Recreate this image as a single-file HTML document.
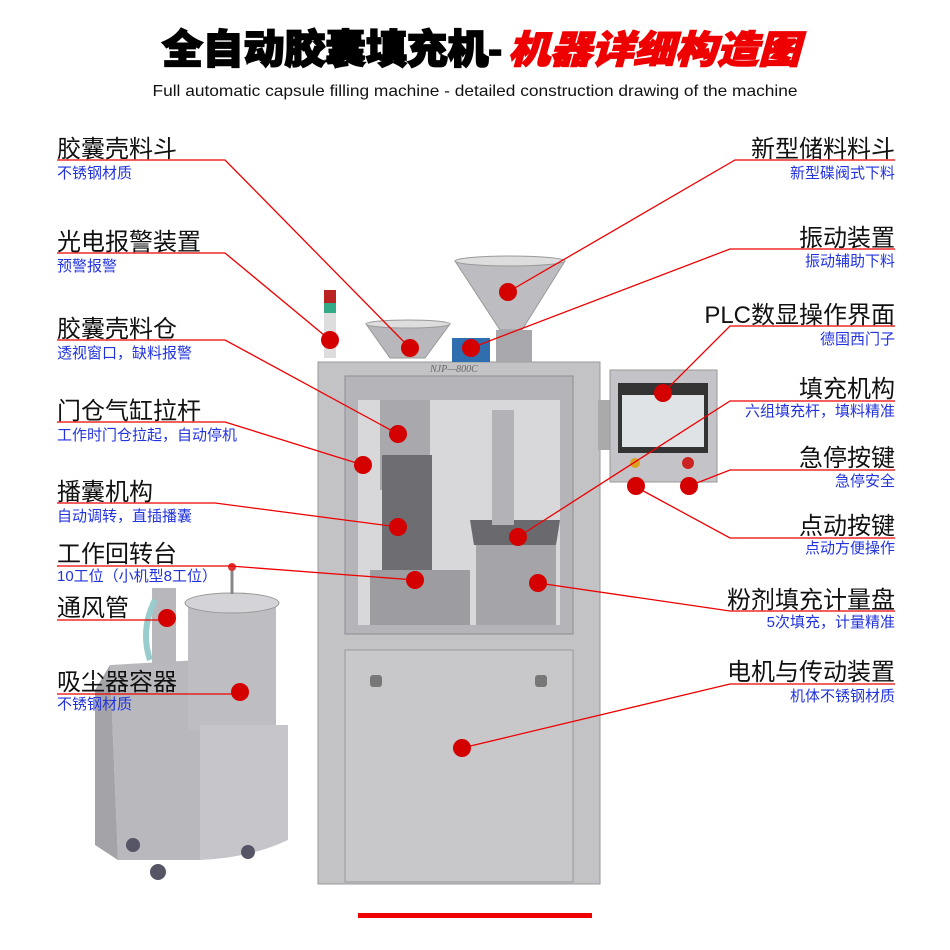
<!DOCTYPE html>
<html><head><meta charset="utf-8"><style>
html,body{margin:0;padding:0;background:#fff}
svg{display:block}
.t{font-family:"Liberation Sans","Noto Sans CJK SC",sans-serif;font-size:24px;fill:#111}
.s{font-family:"Liberation Sans","Noto Sans CJK SC",sans-serif;font-size:15px;fill:#2233dd}
</style></head><body>
<svg width="950" height="950" viewBox="0 0 950 950" xmlns="http://www.w3.org/2000/svg">
<rect width="950" height="950" fill="#fff"/>
<text x="162" y="63" font-family="Liberation Sans,Noto Sans CJK SC,sans-serif" font-size="40" font-weight="900" fill="#000" stroke="#000" stroke-width="1.8" textLength="340" lengthAdjust="spacingAndGlyphs">全自动胶囊填充机-</text>
<text x="508" y="63" font-family="Liberation Sans,Noto Sans CJK SC,sans-serif" font-size="38" font-weight="900" font-style="italic" fill="#e00" stroke="#e00" stroke-width="1.4" textLength="292" lengthAdjust="spacingAndGlyphs">机器详细构造图</text>
<text x="475" y="96" text-anchor="middle" font-family="Liberation Sans,sans-serif" font-size="16" fill="#111" textLength="645" lengthAdjust="spacingAndGlyphs">Full automatic capsule filling machine - detailed construction drawing of the machine</text>

<!-- vacuum cleaner -->
<g>
<rect x="152" y="588" width="24" height="240" fill="#b8b8bc"/>
<path d="M110 665 L200 660 L200 860 L118 860 Z" fill="#b9b9bd"/>
<path d="M95 690 L110 665 L118 860 L95 845 Z" fill="#a4a4a8"/>
<rect x="188" y="600" width="88" height="130" fill="#bebec2"/>
<ellipse cx="232" cy="603" rx="47" ry="10" fill="#d4d4d8" stroke="#999"/>
<path d="M200 725 L288 725 L288 840 Q250 858 200 860 Z" fill="#c6c6ca"/>
<line x1="232" y1="570" x2="232" y2="594" stroke="#888" stroke-width="3"/>
<circle cx="232" cy="567" r="4" fill="#d33"/>
<circle cx="133" cy="845" r="7" fill="#556"/><circle cx="158" cy="872" r="8" fill="#556"/><circle cx="248" cy="852" r="7" fill="#556"/>
<path d="M155 600 Q140 630 150 660" stroke="#9cc" stroke-width="6" fill="none"/>
</g>

<!-- main machine -->
<rect x="318" y="362" width="282" height="522" fill="#c3c3c6" stroke="#999"/>
<rect x="345" y="376" width="228" height="258" fill="#b5b5b9" stroke="#8e8e92"/>
<rect x="358" y="400" width="202" height="225" fill="#d8d8da"/>
<rect x="380" y="400" width="50" height="90" fill="#a9a9ad"/>
<rect x="382" y="455" width="50" height="140" fill="#6e6e72"/>
<rect x="476" y="520" width="80" height="105" fill="#a5a5a9"/>
<path d="M470 520 L560 520 L556 545 L474 545 Z" fill="#6a6a6e"/>
<rect x="492" y="410" width="22" height="115" fill="#b3b3b7"/>
<rect x="370" y="570" width="100" height="55" fill="#9d9da1"/>
<rect x="345" y="650" width="228" height="232" fill="#c8c8cb" stroke="#9a9a9e"/>
<rect x="370" y="675" width="12" height="12" rx="3" fill="#777"/><rect x="535" y="675" width="12" height="12" rx="3" fill="#777"/>
<text x="430" y="372" font-family="Liberation Serif,serif" font-style="italic" font-size="10" fill="#666">NJP—800C</text>
<!-- hoppers -->
<path d="M366 324 L450 324 L425 358 L390 358 Z" fill="#b8b8bc" stroke="#999"/>
<ellipse cx="408" cy="324" rx="42" ry="4" fill="#ddd" stroke="#999"/>
<path d="M455 261 L565 261 L522 330 L500 330 Z" fill="#bdbdc1" stroke="#999"/>
<ellipse cx="510" cy="261" rx="55" ry="5" fill="#ddd" stroke="#999"/>
<rect x="496" y="330" width="36" height="32" fill="#a8a8ac"/>
<rect x="452" y="338" width="38" height="24" fill="#2f6fb0"/>
<!-- light tower -->
<rect x="324" y="290" width="12" height="13" fill="#b22"/><rect x="324" y="303" width="12" height="10" fill="#3a8"/>
<rect x="324" y="313" width="12" height="45" fill="#ddd"/>
<!-- control panel -->
<rect x="598" y="400" width="14" height="50" fill="#aaa"/>
<rect x="610" y="370" width="107" height="112" fill="#c4c4c8" stroke="#999"/>
<rect x="618" y="383" width="90" height="70" fill="#333"/>
<rect x="622" y="395" width="82" height="52" fill="#dfe3e6"/>
<circle cx="635" cy="463" r="5" fill="#d9a320"/><circle cx="688" cy="463" r="6" fill="#c22"/>

<!-- bottom red line -->
<rect x="358" y="913" width="234" height="5" fill="#e00"/>

<!-- leaders -->
<g stroke="#e00" stroke-width="1.3" fill="none">
<polyline points="57,160 225,160 410,348"/>
<polyline points="57,253 225,253 330,340"/>
<polyline points="57,340 225,340 398,434"/>
<polyline points="57,422 225,422 363,465"/>
<polyline points="57,503 215,503 398,527"/>
<polyline points="57,566 230,566 415,580"/>
<polyline points="57,620 167,620"/>
<polyline points="57,694 240,694"/>
<polyline points="895,160 735,160 508,292"/>
<polyline points="895,249 730,249 471,348"/>
<polyline points="895,326 730,326 663,393"/>
<polyline points="895,401 730,401 518,537"/>
<polyline points="895,470 730,470 689,486"/>
<polyline points="895,538 730,538 636,487"/>
<polyline points="895,611 730,611 538,583"/>
<polyline points="895,684 730,684 462,748"/>
</g>
<g fill="#d40000">
<circle cx="410" cy="348" r="9"/><circle cx="330" cy="340" r="9"/><circle cx="398" cy="434" r="9"/>
<circle cx="363" cy="465" r="9"/><circle cx="398" cy="527" r="9"/><circle cx="415" cy="580" r="9"/>
<circle cx="167" cy="618" r="9"/><circle cx="240" cy="692" r="9"/>
<circle cx="508" cy="292" r="9"/><circle cx="471" cy="348" r="9"/><circle cx="663" cy="393" r="9"/>
<circle cx="518" cy="537" r="9"/><circle cx="689" cy="486" r="9"/><circle cx="636" cy="486" r="9"/>
<circle cx="538" cy="583" r="9"/><circle cx="462" cy="748" r="9"/>
</g>

<!-- left labels -->
<text class="t" x="57" y="157">胶囊壳料斗</text><text class="s" x="57" y="178">不锈钢材质</text>
<text class="t" x="57" y="250">光电报警装置</text><text class="s" x="57" y="271">预警报警</text>
<text class="t" x="57" y="337">胶囊壳料仓</text><text class="s" x="57" y="358">透视窗口，缺料报警</text>
<text class="t" x="57" y="419">门仓气缸拉杆</text><text class="s" x="57" y="440">工作时门仓拉起，自动停机</text>
<text class="t" x="57" y="500">播囊机构</text><text class="s" x="57" y="521">自动调转，直插播囊</text>
<text class="t" x="57" y="562">工作回转台</text><text class="s" x="57" y="581">10工位（小机型8工位）</text>
<text class="t" x="57" y="616">通风管</text>
<text class="t" x="57" y="690">吸尘器容器</text><text class="s" x="57" y="709">不锈钢材质</text>

<!-- right labels -->
<g text-anchor="end">
<text class="t" x="895" y="157">新型储料料斗</text><text class="s" x="895" y="178">新型碟阀式下料</text>
<text class="t" x="895" y="246">振动装置</text><text class="s" x="895" y="266">振动辅助下料</text>
<text class="t" x="895" y="323">PLC数显操作界面</text><text class="s" x="895" y="344">德国西门子</text>
<text class="t" x="895" y="397">填充机构</text><text class="s" x="895" y="416">六组填充杆，填料精准</text>
<text class="t" x="895" y="466">急停按键</text><text class="s" x="895" y="486">急停安全</text>
<text class="t" x="895" y="534">点动按键</text><text class="s" x="895" y="553">点动方便操作</text>
<text class="t" x="895" y="608">粉剂填充计量盘</text><text class="s" x="895" y="627">5次填充，计量精准</text>
<text class="t" x="895" y="680">电机与传动装置</text><text class="s" x="895" y="701">机体不锈钢材质</text>
</g>
</svg>
</body></html>
